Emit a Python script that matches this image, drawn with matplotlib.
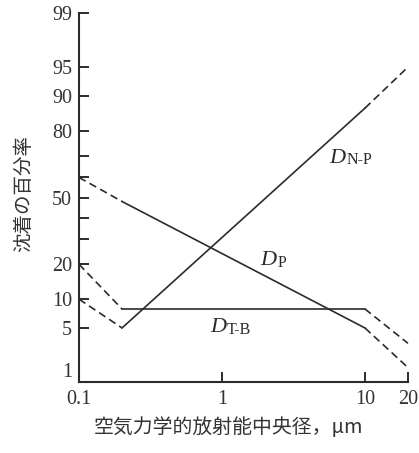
import math
import numpy as np
import matplotlib
matplotlib.use("Agg")
import matplotlib.pyplot as plt
from matplotlib.ticker import FixedLocator, FixedFormatter, NullLocator

# Aerodynamic activity median diameter (µm) at the curve break points
diameter_um = [0.1, 0.2, 10, 20]

# Percentage deposited in each region
dep_np = [10, 5, 87, 95]     # D N-P  (naso-pharyngeal)
dep_tb = [20, 8, 8, 3.3]     # D T-B  (tracheo-bronchial)
dep_p = [60, 48, 5, 1.6]     # D P    (pulmonary)

y_ticks = [1, 5, 10, 20, 30, 40, 50, 60, 70, 80, 90, 95, 99]
y_tick_labels = ["1", "5", "10", "20", "", "", "50", "", "", "80", "90", "95", "99"]
x_ticks = [0.1, 1, 10, 20]
x_tick_labels = ["0.1", "1", "10", "20"]

y_label = "沈着の百分率"
x_label = "空気力学的放射能中央径，μm"


# ---- probability (normal-probit) axis -----------------------------------
_A = [-3.969683028665376e+01, 2.209460984245205e+02, -2.759285104469687e+02,
      1.383577518672690e+02, -3.066479806614716e+01, 2.506628277459239e+00]
_B = [-5.447609879822406e+01, 1.615858368580409e+02, -1.556989798598866e+02,
      6.680131188771972e+01, -1.328068155288572e+01, 1.0]
_C = [-7.784894002430293e-03, -3.223964580411365e-01, -2.400758277161838e+00,
      -2.549671348416293e+00, 4.374664141464968e+00, 2.938163982698783e+00]
_D = [7.784695709041462e-03, 3.224671290700398e-01, 2.445134137142996e+00,
      3.754408661907416e+00, 1.0]


def percent_to_z(pct):
    p = np.clip(np.asarray(pct, dtype=float) / 100.0, 1e-7, 1 - 1e-7)
    plow = 0.02425
    q_mid = p - 0.5
    r = q_mid * q_mid
    z_mid = np.polyval(_A, r) * q_mid / np.polyval(_B, r)
    q_lo = np.sqrt(-2.0 * np.log(p))
    z_lo = np.polyval(_C, q_lo) / np.polyval(_D, q_lo)
    q_hi = np.sqrt(-2.0 * np.log(1.0 - p))
    z_hi = -np.polyval(_C, q_hi) / np.polyval(_D, q_hi)
    return np.where(p < plow, z_lo, np.where(p > 1 - plow, z_hi, z_mid))


_erf = np.vectorize(math.erf)


def z_to_percent(z):
    z = np.asarray(z, dtype=float)
    return 50.0 * (1.0 + _erf(z / math.sqrt(2.0)))


# ---- figure ----------------------------------------------------------------
plt.rcParams["lines.scale_dashes"] = False
ink = "#2b2b2b"
serif = ["Liberation Serif", "DejaVu Serif"]
cjk = ["Noto Sans CJK JP", "DejaVu Sans"]

fig = plt.figure(figsize=(4.19, 4.53), dpi=100)
ax = fig.add_axes([0.1885, 0.1567, 0.7852, 0.8146])

ax.set_xscale("log")
ax.set_yscale("function", functions=(percent_to_z, z_to_percent))
ax.set_xlim(0.1, 20)
ax.set_ylim(1, 99)

dash = (5.5, 3.2)
for vals in (dep_np, dep_tb, dep_p):
    x = np.asarray(diameter_um)
    y = np.asarray(vals)
    ax.plot(x[0:2], y[0:2], color=ink, lw=1.2, dashes=dash, clip_on=False)
    ax.plot(x[1:3], y[1:3], color=ink, lw=1.2, clip_on=False)
    ax.plot(x[2:4], y[2:4], color=ink, lw=1.2, dashes=dash, clip_on=False)

# spines
for side in ("top", "right"):
    ax.spines[side].set_visible(False)
for side in ("left", "bottom"):
    ax.spines[side].set_linewidth(1.5)
    ax.spines[side].set_color(ink)

# ticks
ax.yaxis.set_major_locator(FixedLocator(y_ticks))
ax.yaxis.set_major_formatter(FixedFormatter(y_tick_labels))
ax.yaxis.set_minor_locator(NullLocator())
ax.xaxis.set_major_locator(FixedLocator(x_ticks))
ax.xaxis.set_major_formatter(FixedFormatter(x_tick_labels))
ax.xaxis.set_minor_locator(NullLocator())
ax.tick_params(axis="both", direction="in", length=7, width=1.4, color=ink,
               labelcolor="#333333", labelsize=14.5)
ax.tick_params(axis="y", pad=5)
ax.tick_params(axis="x", pad=6)
for lab in ax.get_yticklabels() + ax.get_xticklabels():
    lab.set_fontfamily(serif)
# the "1" at the corner sits just above the x axis
ax.get_yticklabels()[0].set_verticalalignment("bottom")

# axis titles
ax.set_ylabel(y_label, fontsize=14, color="#333333", fontfamily=cjk)
ax.yaxis.set_label_coords(-0.168, 0.512)
ax.yaxis.label.set_verticalalignment("center")
ax.set_xlabel(x_label, fontsize=14.3, color="#333333", fontfamily=cjk)
ax.xaxis.set_label_coords(0.453, -0.122)
ax.xaxis.label.set_verticalalignment("center")


# curve names: italic D with an upright subscript
def curve_name(x, y, sub):
    d = ax.text(x, y, "D", fontsize=16, fontstyle="italic", fontfamily=serif,
                color=ink, ha="left", va="baseline")
    ax.annotate(sub, xy=(1, 0), xycoords=d, xytext=(0.8, -0.5),
                textcoords="offset points", fontsize=11.5, fontfamily=serif,
                color=ink, ha="left", va="bottom")


curve_name(5.6, 67, "N-P")
curve_name(1.85, 19.7, "P")
curve_name(0.824, 4.5, "T-B")

fig.savefig("out.png", dpi=100)
